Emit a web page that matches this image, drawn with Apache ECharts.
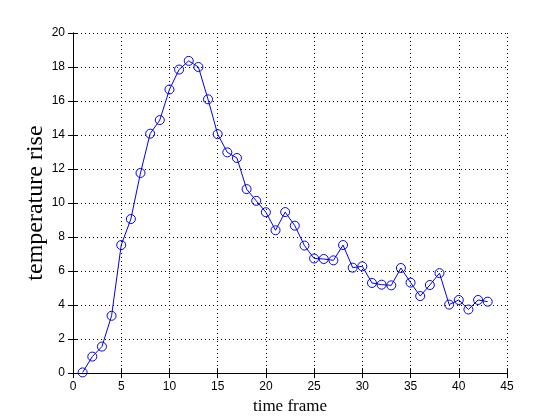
<!DOCTYPE html>
<html>
<head>
<meta charset="utf-8">
<script src="https://cdn.jsdelivr.net/npm/echarts@6/dist/echarts.min.js"></script>
<style>
  html, body { margin: 0; padding: 0; background: #fff; }
  #chart { width: 560px; height: 420px; }
</style>
</head>
<body>
<div id="chart"></div>
<script>
// time frame (x) and temperature rise (y)
const timeFrames = [1, 2, 3, 4, 5, 6, 7, 8, 9, 10, 11, 12, 13, 14, 15, 16, 17, 18, 19, 20, 21, 22,
  23, 24, 25, 26, 27, 28, 29, 30, 31, 32, 33, 34, 35, 36, 37, 38, 39, 40, 41, 42, 43]
const tempRise = [0.04, 0.97, 1.56, 3.37, 7.53, 9.06, 11.77, 14.08, 14.88, 16.68, 17.85, 18.36, 18.0,
  16.1, 14.05, 12.98, 12.65, 10.82, 10.13, 9.46, 8.4, 9.47, 8.67, 7.5, 6.74, 6.71, 6.63, 7.53,
  6.2, 6.28, 5.3, 5.2, 5.16, 6.18, 5.32, 4.53, 5.18, 5.88, 4.03, 4.3, 3.74, 4.3, 4.2]

const chart = echarts.init(document.getElementById('chart'))

const tickFont = { color: '#000', fontSize: 12, fontFamily: 'Liberation Sans' }
const dotted = { show: true, lineStyle: { color: '#000', type: [1, 3], width: 1 } }

const option = {
  animation: false,
  grid: { left: 73, right: 53, top: 33, bottom: 46 },
  xAxis: [
    {
      type: 'value', min: 0, max: 45, interval: 5,
      name: 'time frame', nameLocation: 'middle', nameGap: 22,
      nameTextStyle: { fontFamily: 'Liberation Serif', fontSize: 17, color: '#000' },
      axisLine: { lineStyle: { color: '#000' } },
      axisTick: { inside: true, length: 5, lineStyle: { color: '#000' } },
      axisLabel: tickFont,
      splitLine: dotted
    },
    {
      type: 'value', min: 0, max: 45, interval: 5, position: 'top',
      axisLine: { lineStyle: { color: '#000' } },
      axisTick: { inside: true, length: 5, lineStyle: { color: '#000' } },
      axisLabel: { show: false }, splitLine: { show: false }
    }
  ],
  yAxis: [
    {
      type: 'value', min: 0, max: 20, interval: 2,
      name: 'temperature rise', nameLocation: 'middle', nameGap: 25, nameMoveOverlap: false,
      nameTextStyle: { fontFamily: 'Liberation Serif', fontSize: 24, color: '#000' },
      axisLine: { show: true, lineStyle: { color: '#000' } },
      axisTick: { show: true, inside: true, length: 5, lineStyle: { color: '#000' } },
      axisLabel: tickFont,
      splitLine: dotted
    },
    {
      type: 'value', min: 0, max: 20, interval: 2, position: 'right',
      axisLine: { show: true, lineStyle: { color: '#000' } },
      axisTick: { show: true, inside: true, length: 5, lineStyle: { color: '#000' } },
      axisLabel: { show: false }, splitLine: { show: false }
    }
  ],
  series: [{
    type: 'line',
    data: timeFrames.map((t, i) => [t, tempRise[i]]),
    symbol: 'circle', symbolSize: 9, showAllSymbol: true,
    lineStyle: { color: '#0000ee', width: 1 },
    itemStyle: { color: 'transparent', borderColor: '#0000ee', borderWidth: 1 }
  }]
}

chart.setOption(option)
</script>
</body>
</html>
